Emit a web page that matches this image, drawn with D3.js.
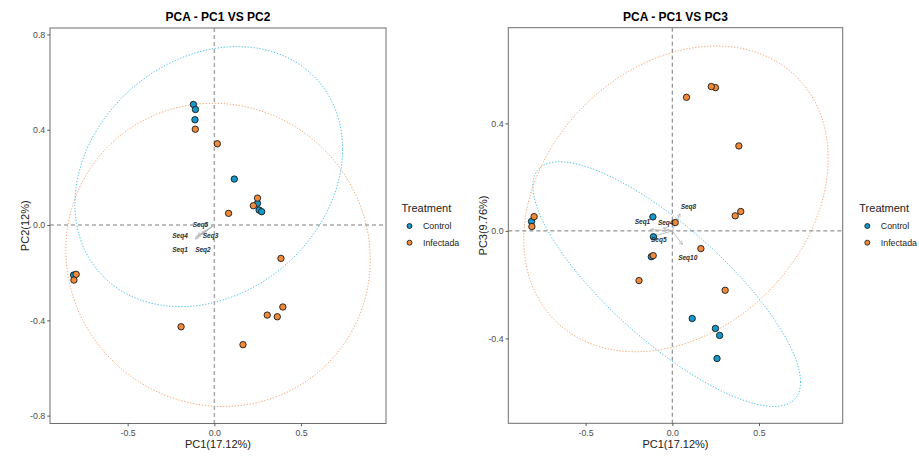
<!DOCTYPE html>
<html>
<head>
<meta charset="utf-8">
<script src="https://cdn.jsdelivr.net/npm/d3@7"></script>
<style>
  body { margin: 0; background: #fff; }
  svg { display: block; font-family: "Liberation Sans", Arial, sans-serif; }
</style>
</head>
<body>
<svg id="chart" width="919" height="456"></svg>
<script>
// ---- PCA sample scores ----
const treatment = [
  "Control", "Control", "Control", "Control", "Control", "Control", "Control", "Control",
  "Infectada", "Infectada", "Infectada", "Infectada", "Infectada", "Infectada", "Infectada",
  "Infectada", "Infectada", "Infectada", "Infectada", "Infectada", "Infectada"
];
const pc1 = [-0.121, -0.109, -0.112, 0.115, 0.249, 0.258, 0.273, -0.812,
             -0.110, 0.017, 0.249, 0.225, 0.082, 0.384, -0.797, -0.810, 0.395, 0.305, 0.363, -0.192, 0.165];
const pc2 = [0.506, 0.485, 0.442, 0.193, 0.091, 0.063, 0.056, -0.210,
             0.402, 0.341, 0.113, 0.081, 0.049, -0.140, -0.207, -0.231, -0.344, -0.378, -0.385, -0.427, -0.502];
const pc3 = [-0.096, -0.022, 0.052, -0.326, -0.363, -0.475, -0.389, 0.035,
             -0.092, 0.031, 0.533, 0.537, 0.497, 0.316, 0.053, 0.016, 0.072, -0.221, 0.056, -0.185, -0.066];

// ---- variable loadings (arrow tips) and their repelled label anchors ----
const varsPC2 = ["Seq1", "Seq2", "Seq3", "Seq4", "Seq5"];
const arrowPC2x = [-0.110, -0.065, -0.075, -0.100, -0.092];
const arrowPC2y = [-0.058, -0.035, -0.040, -0.050, -0.042];
const labelPC2x = [-0.198, -0.066, -0.022, -0.198, -0.080];
const labelPC2y = [-0.101, -0.101, -0.044, -0.044, 0.004];

const varsPC3 = ["Seq1", "Seq4", "Seq5", "Seq8", "Seq10"];
const arrowPC3x = [-0.125, -0.050, -0.105, 0.044, 0.058];
const arrowPC3y = [0.005, 0.010, -0.020, 0.063, -0.050];
const labelPC3x = [-0.172, -0.038, -0.078, 0.093, 0.089];
const labelPC3y = [0.035, 0.031, -0.031, 0.091, -0.098];

// ---- groups, axis ticks ----
const groups = ["Control", "Infectada"];
const xTicks = [-0.5, 0.0, 0.5];
const yTicksPC2 = [-0.8, -0.4, 0.0, 0.4, 0.8];
const yTicksPC3 = [-0.4, 0.0, 0.4];

const fillColor = d3.scaleOrdinal().domain(groups).range(["#1597c8", "#f08a3b"]);
const ellipseColor = d3.scaleOrdinal().domain(groups).range(["#4cc0ea", "#f7a676"]);
const fmt = v => v.toFixed(1);

const svg = d3.select("#chart");
const defs = svg.append("defs");
defs.append("marker")
  .attr("id", "arrowhead")
  .attr("viewBox", "0 0 10 10")
  .attr("refX", 9).attr("refY", 5)
  .attr("markerWidth", 4).attr("markerHeight", 4)
  .attr("markerUnits", "userSpaceOnUse")
  .attr("orient", "auto")
  .append("path")
  .attr("d", "M0,0 L10,5 L0,10")
  .attr("fill", "none")
  .attr("stroke", "#b5b5b5")
  .attr("stroke-width", 1.6);

// 90% normal data ellipse per group: centre = mean, shape = Cholesky of the covariance
function dataEllipse(xs, ys) {
  const n = xs.length;
  const mx = d3.mean(xs), my = d3.mean(ys);
  let sxx = 0, syy = 0, sxy = 0;
  for (let i = 0; i < n; i++) {
    sxx += (xs[i] - mx) ** 2;
    syy += (ys[i] - my) ** 2;
    sxy += (xs[i] - mx) * (ys[i] - my);
  }
  sxx /= n - 1; syy /= n - 1; sxy /= n - 1;
  const a = Math.sqrt(sxx), b = sxy / a, c = Math.sqrt(syy - b * b);
  const r = Math.sqrt(-2 * Math.log(1 - 0.9));
  return d3.range(0, 121).map(i => {
    const t = 2 * Math.PI * i / 120;
    return [mx + r * a * Math.cos(t), my + r * (b * Math.cos(t) + c * Math.sin(t))];
  });
}

const panels = [
  {
    title: "PCA - PC1 VS PC2", yLabel: "PC2(12%)", yVals: pc2, yTicks: yTicksPC2,
    left: 50, right: 386, top: 28, bottom: 423.5,
    xDomain: [-0.948, 0.99], yDomain: [-0.833, 0.827],
    vars: varsPC2, ax: arrowPC2x, ay: arrowPC2y, lx: labelPC2x, ly: labelPC2y,
    refColor: "#a9a9a9", refWidth: 1.5,
    legendX: 401.5
  },
  {
    title: "PCA - PC1 VS PC3", yLabel: "PC3(9.76%)", yVals: pc3, yTicks: yTicksPC3,
    left: 508.3, right: 842.7, top: 27.7, bottom: 423.3,
    xDomain: [-0.946, 0.983], yDomain: [-0.716, 0.756],
    vars: varsPC3, ax: arrowPC3x, ay: arrowPC3y, lx: labelPC3x, ly: labelPC3y,
    refColor: "#6a6a6a", refWidth: 0.9,
    legendX: 859.3
  }
];

panels.forEach(p => {
  const x = d3.scaleLinear().domain(p.xDomain).range([p.left, p.right]);
  const y = d3.scaleLinear().domain(p.yDomain).range([p.bottom, p.top]);
  const g = svg.append("g");
  const cx = (p.left + p.right) / 2, cy = (p.top + p.bottom) / 2;

  // title
  g.append("text")
    .attr("x", cx).attr("y", 21)
    .attr("text-anchor", "middle")
    .attr("font-size", 12).attr("font-weight", "bold").attr("fill", "#000")
    .text(p.title);

  const plot = g.append("g");
  plot.append("clipPath").attr("id", "clip" + p.left)
    .append("rect")
    .attr("x", p.left).attr("y", p.top)
    .attr("width", p.right - p.left).attr("height", p.bottom - p.top);
  const inner = plot.append("g").attr("clip-path", `url(#clip${p.left})`);

  // group ellipses
  const line = d3.line().x(d => x(d[0])).y(d => y(d[1]));
  groups.forEach(grp => {
    const idx = d3.range(treatment.length).filter(i => treatment[i] === grp);
    const pts = dataEllipse(idx.map(i => pc1[i]), idx.map(i => p.yVals[i]));
    inner.append("path")
      .attr("d", line(pts))
      .attr("fill", "none")
      .attr("stroke", ellipseColor(grp))
      .attr("stroke-width", 1)
      .attr("stroke-dasharray", "1.3,1.7");
  });

  // reference lines at zero
  inner.append("line")
    .attr("x1", p.left).attr("x2", p.right).attr("y1", y(0)).attr("y2", y(0))
    .attr("stroke", p.refColor).attr("stroke-width", p.refWidth).attr("stroke-dasharray", "4,3");
  inner.append("line")
    .attr("x1", x(0)).attr("x2", x(0)).attr("y1", p.top).attr("y2", p.bottom)
    .attr("stroke", p.refColor).attr("stroke-width", p.refWidth).attr("stroke-dasharray", "4,3");

  // variable arrows
  p.vars.forEach((v, i) => {
    inner.append("line")
      .attr("x1", x(0)).attr("y1", y(0))
      .attr("x2", x(p.ax[i])).attr("y2", y(p.ay[i]))
      .attr("stroke", "#b5b5b5").attr("stroke-width", 0.9)
      .attr("marker-end", "url(#arrowhead)");
  });

  // sample points (Control first, Infectada on top)
  const order = d3.range(treatment.length);
  inner.selectAll("circle.pt").data(order).join("circle")
    .attr("class", "pt")
    .attr("cx", i => x(pc1[i]))
    .attr("cy", i => y(p.yVals[i]))
    .attr("r", 3.2)
    .attr("fill", i => fillColor(treatment[i]))
    .attr("stroke", "#111").attr("stroke-width", 0.85);

  // variable labels
  p.vars.forEach((v, i) => {
    inner.append("text")
      .attr("x", x(p.lx[i])).attr("y", y(p.ly[i]))
      .attr("text-anchor", "middle").attr("dominant-baseline", "central")
      .attr("font-size", 6.5).attr("font-weight", "bold").attr("font-style", "italic")
      .attr("fill", "#2b2b2b")
      .text(v);
  });

  // panel border
  g.append("rect")
    .attr("x", p.left).attr("y", p.top)
    .attr("width", p.right - p.left).attr("height", p.bottom - p.top)
    .attr("fill", "none").attr("stroke", "#6e6e6e").attr("stroke-width", 1);

  // axes
  const xAxis = g.append("g").attr("transform", `translate(0,${p.bottom})`)
    .call(d3.axisBottom(x).tickValues(xTicks).tickFormat(fmt).tickSize(2.75).tickPadding(3.5));
  const yAxis = g.append("g").attr("transform", `translate(${p.left},0)`)
    .call(d3.axisLeft(y).tickValues(p.yTicks).tickFormat(fmt).tickSize(2.75).tickPadding(2));
  [xAxis, yAxis].forEach(ax => {
    ax.select(".domain").remove();
    ax.selectAll(".tick line").attr("stroke", "#333").attr("stroke-width", 0.8);
    ax.selectAll(".tick text")
      .attr("fill", "#4d4d4d").attr("font-size", 8.8)
      .attr("font-family", "\"Liberation Sans\", Arial, sans-serif");
  });

  // axis titles
  g.append("text")
    .attr("x", cx).attr("y", 448)
    .attr("text-anchor", "middle").attr("font-size", 11).attr("fill", "#222")
    .text("PC1(17.12%)");
  g.append("text")
    .attr("transform", `translate(${p.left - 21.5},${cy}) rotate(-90)`)
    .attr("text-anchor", "middle").attr("font-size", 11).attr("fill", "#222")
    .text(p.yLabel);

  // legend
  const lg = g.append("g").attr("transform", `translate(${p.legendX},0)`);
  lg.append("text").attr("x", 0).attr("y", 211.5)
    .attr("font-size", 11).attr("fill", "#222").text("Treatment");
  groups.forEach((grp, i) => {
    const ly = 226 + i * 16.7;
    lg.append("circle").attr("cx", 8).attr("cy", ly).attr("r", 2.5)
      .attr("fill", fillColor(grp)).attr("stroke", "#111").attr("stroke-width", 0.8);
    lg.append("text").attr("x", 21.5).attr("y", ly)
      .attr("dominant-baseline", "central")
      .attr("font-size", 8.8).attr("fill", "#222").text(grp);
  });
});
</script>
</body>
</html>
